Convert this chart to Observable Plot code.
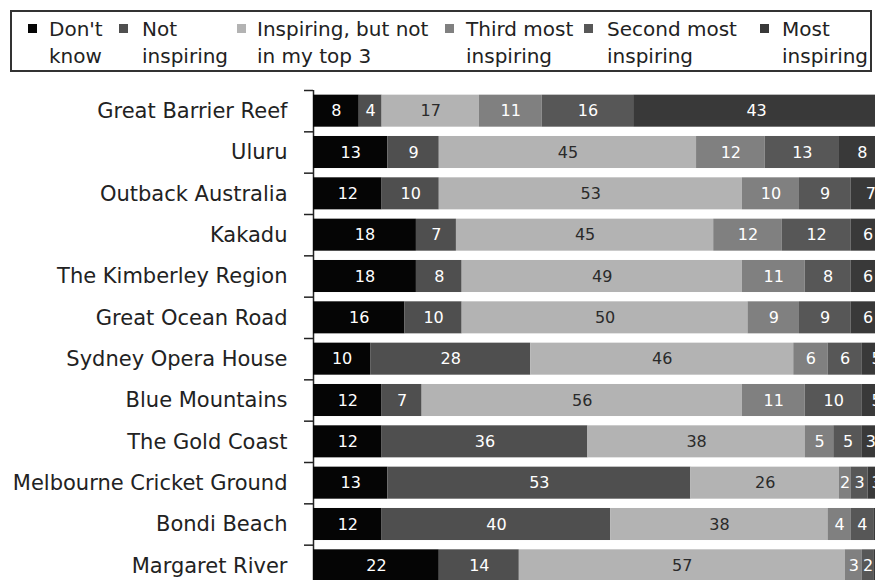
<!DOCTYPE html>
<html>
<head>
<meta charset="utf-8">
<script src="https://cdn.jsdelivr.net/npm/d3@7"></script>
<script src="https://cdn.jsdelivr.net/npm/@observablehq/plot@0.6"></script>
<style>
  html, body { margin: 0; padding: 0; background: #fff; overflow: hidden; width: 875px; height: 580px; }
  #legend { position: relative; box-sizing: border-box; margin: 10px 0 6px 10px; width: 862px; height: 62px;
            border: 2px solid #333; font-family: "DejaVu Sans", sans-serif; font-size: 20px; color: #222; }
  #legend .mk { position: absolute; top: 12px; width: 9px; height: 9px; }
  #legend .tx { position: absolute; top: 4px; line-height: 27px; white-space: pre; }
  #chart svg { overflow: hidden; }
</style>
</head>
<body>
<div id="legend"></div>
<div id="chart"></div>
<script>
const places = ["Great Barrier Reef", "Uluru", "Outback Australia", "Kakadu", "The Kimberley Region",
  "Great Ocean Road", "Sydney Opera House", "Blue Mountains", "The Gold Coast",
  "Melbourne Cricket Ground", "Bondi Beach", "Margaret River"];
const categories = ["Don't know", "Not inspiring", "Inspiring, but not in my top 3",
  "Third most inspiring", "Second most inspiring", "Most inspiring"];
const legendLabels = ["Don't\nknow", "Not\ninspiring", "Inspiring, but not\nin my top 3",
  "Third most\ninspiring", "Second most\ninspiring", "Most\ninspiring"];
const dontKnow         = [8, 13, 12, 18, 18, 16, 10, 12, 12, 13, 12, 22];
const notInspiring     = [4, 9, 10, 7, 8, 10, 28, 7, 36, 53, 40, 14];
const inspiringNotTop3 = [17, 45, 53, 45, 49, 50, 46, 56, 38, 26, 38, 57];
const thirdMost        = [11, 12, 10, 12, 11, 9, 6, 11, 5, 2, 4, 3];
const secondMost       = [16, 13, 9, 12, 8, 9, 6, 10, 5, 3, 4, 2];
const mostInspiring    = [43, 8, 7, 6, 6, 6, 5, 5, 3, 3, 2, 2];
const colors = ["#050505", "#4f4f4f", "#b3b3b3", "#808080", "#575757", "#393939"];

const series = [dontKnow, notInspiring, inspiringNotTop3, thirdMost, secondMost, mostInspiring];
const data = [];
places.forEach((place, i) => {
  categories.forEach((category, j) => data.push({place, category, value: series[j][i]}));
});

// legend (HTML, above the plot)
const markerX = [16, 107, 225, 433, 572, 748];
const textX = [37, 130, 245, 454, 595, 770];
const legend = document.getElementById("legend");
categories.forEach((c, j) => {
  const m = document.createElement("div");
  m.className = "mk"; m.style.left = markerX[j] + "px"; m.style.background = colors[j];
  legend.appendChild(m);
  const t = document.createElement("div");
  t.className = "tx"; t.style.left = textX[j] + "px"; t.textContent = legendLabels[j];
  legend.appendChild(t);
});

const width = 875, height = 508, marginTop = 12, marginBottom = 0;
const step = (height - marginTop - marginBottom) / places.length;
const light = categories[2];

const chart = Plot.plot({
  width, height, marginTop, marginBottom, marginLeft: 313, marginRight: 0,
  style: {fontFamily: "DejaVu Sans, sans-serif", background: "#fff"},
  x: {domain: [0, 98.3], axis: null},
  y: {domain: places, paddingInner: 0.225, paddingOuter: 0.1125, round: false, axis: null, label: null},
  color: {domain: categories, range: colors},
  marks: [
    Plot.ruleX([0], {stroke: "#222", strokeWidth: 1.5}),
    Plot.barX(data, Plot.stackX({x: "value", y: "place", z: "category", fill: "category", clip: true})),
    Plot.text(data, Plot.stackX({x: "value", y: "place", z: "category",
      text: d => d.category === light ? null : d.value, fill: "white", fontSize: 16, clip: true})),
    Plot.text(data, Plot.stackX({x: "value", y: "place", z: "category",
      text: d => d.category === light ? d.value : null, fill: "#2a2a2a", fontSize: 16, clip: true})),
    Plot.axisY({tickSize: 0, tickPadding: 26, fontSize: 21, color: "#222", label: null}),
    Plot.axisY({tickSize: 9, tickFormat: () => "", dy: -step / 2, stroke: "#222", strokeWidth: 1.5, label: null})
  ]
});
document.getElementById("chart").appendChild(chart);
</script>
</body>
</html>
